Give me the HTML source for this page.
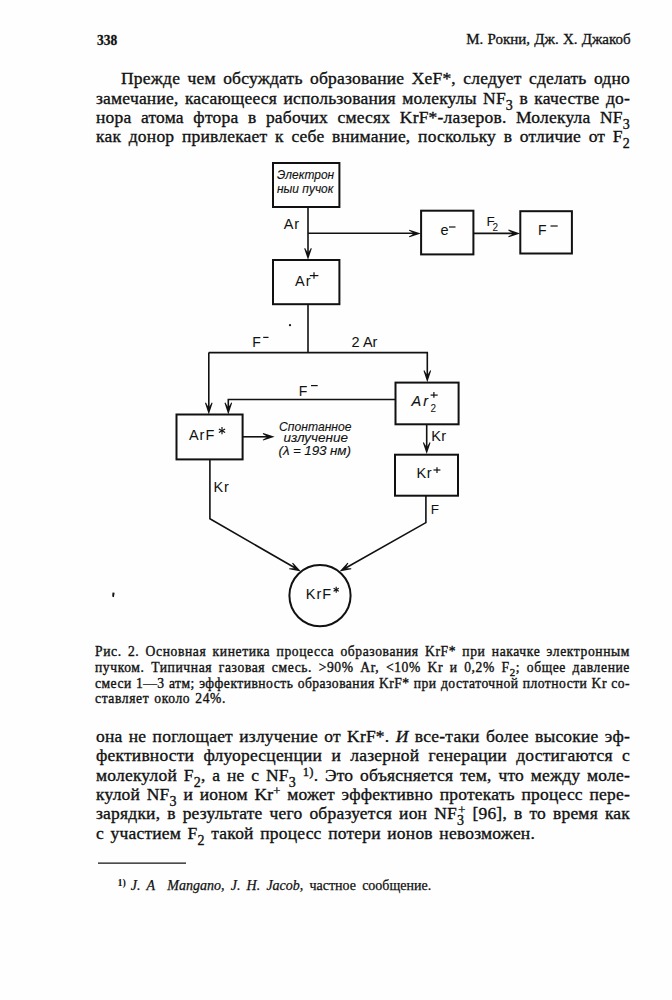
<!DOCTYPE html>
<html><head><meta charset="utf-8">
<style>
html,body{margin:0;padding:0;background:#fdfefd;}
body{width:672px;height:1000px;position:relative;overflow:hidden;color:#111;}
.t{position:absolute;white-space:nowrap;font-family:"Liberation Serif",serif;line-height:1;}
.j{text-align:justify;text-align-last:justify;}
.b{font-size:17.5px;letter-spacing:0.2px;-webkit-text-stroke:0.35px #111;}
.c{font-size:13.6px;letter-spacing:0.6px;-webkit-text-stroke:0.35px #111;}
.sb{position:relative;top:0.42em;font-size:0.8em;line-height:0;}
.sp{position:relative;top:-0.42em;font-size:0.72em;line-height:0;}
.d{position:absolute;white-space:nowrap;font-family:"Liberation Sans",sans-serif;line-height:1;-webkit-text-stroke:0;}
.it{font-style:italic;-webkit-text-stroke:0.12px #111;transform-origin:0 0;}
svg{position:absolute;left:0;top:0;}
</style></head>
<body>
<div class="t" style="left:96.6px;top:32.3px;font-size:15.5px;font-weight:bold;-webkit-text-stroke:0.3px #111;transform:scaleX(0.87);transform-origin:0 0;">338</div>
<div class="t j" style="left:466.20px;top:31.99px;width:164.50px;font-size:15px;-webkit-text-stroke:0.3px #111;">М. Рокни, Дж. Х. Джакоб</div>
<div class="t b j" style="left:121.00px;top:70.09px;width:509.00px;">Прежде чем обсуждать образование XeF*, следует сделать одно</div>
<div class="t b j" style="left:96.00px;top:89.69px;width:534.00px;">замечание, касающееся использования молекулы NF<span class="sb">3</span> в качестве до-</div>
<div class="t b j" style="left:96.00px;top:109.09px;width:534.00px;">нора атома фтора в рабочих смесях KrF*-лазеров. Молекула NF<span class="sb">3</span></div>
<div class="t b j" style="left:96.00px;top:128.39px;width:534.00px;">как донор привлекает к себе внимание, поскольку в отличие от F<span class="sb">2</span></div>
<svg width="672" height="1000" viewBox="0 0 672 1000" >
<defs><path id="ah" d="M0,0.6 L-3.8,-10.8 L-2.9,-11.3 Q-1,-7.4 0,-6.8 Q1,-7.4 2.9,-11.3 L3.8,-10.8 Z" fill="#111"/></defs>
<g fill="none" stroke="#111" stroke-width="2">
<rect x="273.00" y="163.00" width="66.40" height="44.00"/>
<rect x="273.00" y="260.00" width="66.40" height="44.20"/>
<rect x="421.10" y="210.70" width="52.30" height="43.70"/>
<rect x="520.30" y="211.20" width="51.60" height="42.30"/>
<rect x="176.50" y="414.50" width="66.10" height="44.90"/>
<rect x="395.50" y="382.60" width="63.10" height="41.70"/>
<rect x="395.00" y="454.70" width="63.00" height="41.00"/>
<circle cx="320" cy="595.6" r="30.6"/>
</g>
<g fill="none" stroke="#111" stroke-width="1.60" stroke-linejoin="miter">
<path d="M308,207 V255"/>
<path d="M308,233.3 H416"/>
<path d="M474,233.4 H515"/>
<path d="M308,305 V352.6"/>
<path d="M208.8,352.6 H427.3 V378"/>
<path d="M208.8,352.6 V410"/>
<path d="M395,399.5 H228.3 V410"/>
<path d="M243,436.8 H270"/>
<path d="M426.7,425 V450"/>
<path d="M209.9,460 V518.8 L297,569"/>
<path d="M425.9,496 V522.6 L343,569.5"/>
</g>
<g>
<use href="#ah" transform="translate(308,259.2)"/>
<use href="#ah" transform="translate(420.2,233.5) rotate(-90)"/>
<use href="#ah" transform="translate(519.5,233.4) rotate(-90)"/>
<use href="#ah" transform="translate(427.3,381.6)"/>
<use href="#ah" transform="translate(208.8,413.8)"/>
<use href="#ah" transform="translate(228.3,413.8)"/>
<use href="#ah" transform="translate(274,436.8) rotate(-90)"/>
<use href="#ah" transform="translate(426.7,453.5)"/>
<use href="#ah" transform="translate(300.5,571.3) rotate(-60.6)"/>
<use href="#ah" transform="translate(340,571.3) rotate(60.4)"/>
</g>
<line x1="309.80" y1="275.60" x2="318.40" y2="275.60" stroke="#111" stroke-width="1.20"/>
<line x1="314.00" y1="272.20" x2="314.00" y2="278.80" stroke="#111" stroke-width="1.20"/>
<line x1="449.00" y1="227.00" x2="455.50" y2="227.00" stroke="#111" stroke-width="1.20"/>
<line x1="550.50" y1="226.00" x2="557.70" y2="226.00" stroke="#111" stroke-width="1.20"/>
<line x1="263.20" y1="337.40" x2="268.50" y2="337.40" stroke="#111" stroke-width="1.20"/>
<line x1="311.00" y1="385.60" x2="317.70" y2="385.60" stroke="#111" stroke-width="1.20"/>
<line x1="430.60" y1="395.10" x2="437.70" y2="395.10" stroke="#111" stroke-width="1.20"/>
<line x1="433.90" y1="391.90" x2="433.90" y2="397.80" stroke="#111" stroke-width="1.20"/>
<line x1="433.50" y1="470.00" x2="440.40" y2="470.00" stroke="#111" stroke-width="1.20"/>
<line x1="437.00" y1="467.30" x2="437.00" y2="473.00" stroke="#111" stroke-width="1.20"/>
<line x1="222.00" y1="427.10" x2="222.00" y2="434.30" stroke="#111" stroke-width="1.15"/>
<line x1="218.88" y1="428.90" x2="225.12" y2="432.50" stroke="#111" stroke-width="1.15"/>
<line x1="225.12" y1="428.90" x2="218.88" y2="432.50" stroke="#111" stroke-width="1.15"/>
<line x1="336.20" y1="586.80" x2="336.20" y2="592.80" stroke="#111" stroke-width="1.15"/>
<line x1="333.60" y1="588.30" x2="338.80" y2="591.30" stroke="#111" stroke-width="1.15"/>
<line x1="338.80" y1="588.30" x2="333.60" y2="591.30" stroke="#111" stroke-width="1.15"/>
<circle cx="290" cy="325.2" r="1.1" fill="#111"/>
<path d="M112.5,592.5 L114.6,592.8 L113.9,597.2 L112.2,596.6 Z" fill="#111"/>
<line x1="98" y1="863.1" x2="186" y2="863.1" stroke="#111" stroke-width="1.2"/>
</svg>
<div class="d it" style="left:277.20px;top:167.77px;font-size:13.50px;transform:scaleX(0.885);-webkit-text-stroke:0.15px #111;">Электрон</div>
<div class="d it" style="left:276.70px;top:182.32px;font-size:13.50px;transform:scaleX(0.885);-webkit-text-stroke:0.15px #111;">ныи пучок</div>
<div class="d" style="left:283.70px;top:217.33px;font-size:14.50px;letter-spacing:1.00px;">Ar</div>
<div class="d" style="left:294.90px;top:274.03px;font-size:14.50px;letter-spacing:1.20px;">Ar</div>
<div class="d" style="left:440.50px;top:223.13px;font-size:14.50px;">e</div>
<div class="d" style="left:486.40px;top:214.82px;font-size:13.50px;">F</div>
<div class="d" style="left:492.50px;top:222.78px;font-size:10.00px;">2</div>
<div class="d" style="left:538.00px;top:223.35px;font-size:14.00px;">F</div>
<div class="d" style="left:252.30px;top:334.85px;font-size:14.00px;">F</div>
<div class="d" style="left:351.60px;top:335.23px;font-size:14.50px;">2 Ar</div>
<div class="d" style="left:298.80px;top:383.55px;font-size:14.00px;">F</div>
<div class="d" style="left:188.90px;top:428.23px;font-size:14.50px;letter-spacing:1.00px;">ArF</div>
<div class="d it" style="left:411.50px;top:393.63px;font-size:14.50px;letter-spacing:2.00px;">Ar</div>
<div class="d" style="left:430.60px;top:403.94px;font-size:10.00px;">2</div>
<div class="d" style="left:431.20px;top:428.53px;font-size:14.50px;letter-spacing:0.50px;">Kr</div>
<div class="d" style="left:416.60px;top:465.73px;font-size:14.50px;letter-spacing:0.60px;">Kr</div>
<div class="d" style="left:213.40px;top:479.63px;font-size:14.50px;letter-spacing:1.00px;">Kr</div>
<div class="d" style="left:430.80px;top:503.27px;font-size:13.50px;">F</div>
<div class="d it" style="left:278.60px;top:419.57px;font-size:13.50px;transform:scaleX(0.900);">Спонтанное</div>
<div class="d it" style="left:283.40px;top:430.87px;font-size:13.50px;">излучение</div>
<div class="d it" style="left:278.60px;top:443.57px;font-size:13.50px;letter-spacing:-0.15px;">(λ = 193 нм)</div>
<div class="d" style="left:305.80px;top:587.48px;font-size:14.50px;letter-spacing:1.00px;">KrF</div>
<div class="t c j" style="left:95.00px;top:644.96px;width:535.00px;">Рис. 2. Основная кинетика процесса образования KrF* при накачке электронным</div>
<div class="t c j" style="left:95.00px;top:660.61px;width:535.00px;">пучком. Типичная газовая смесь. &gt;90% Ar, &lt;10% Kr и 0,2% F<span class="sb">2</span>; общее давление</div>
<div class="t c j" style="left:95.00px;top:676.66px;width:535.00px;letter-spacing:0.48px;">смеси 1—3 атм; эффективность образования KrF* при достаточной плотности Kr со-</div>
<div class="t c j" style="left:95.00px;top:692.16px;width:131.00px;">ставляет около 24%.</div>
<div class="t b j" style="left:96.00px;top:727.69px;width:534.00px;">она не поглощает излучение от KrF*. <i>И</i> все-таки более высокие эф-</div>
<div class="t b j" style="left:96.00px;top:746.59px;width:534.00px;">фективности флуоресценции и лазерной генерации достигаются с</div>
<div class="t b j" style="left:96.00px;top:767.09px;width:534.00px;">молекулой F<span class="sb">2</span>, а не с NF<span class="sb">3</span> <span class="sp">1)</span>. Это объясняется тем, что между моле-</div>
<div class="t b j" style="left:96.00px;top:786.49px;width:534.00px;">кулой NF<span class="sb">3</span> и ионом Kr<span class="sp">+</span> может эффективно протекать процесс пере-</div>
<div class="t b j" style="left:96.00px;top:805.49px;width:534.00px;">зарядки, в результате чего образуется ион NF<span class="sb">3</span><span class="sp" style="margin-left:-6px">+</span> [96], в то время как</div>
<div class="t b j" style="left:96.00px;top:825.09px;width:439.00px;">с участием F<span class="sb">2</span> такой процесс потери ионов невозможен.</div>
<div class="t " style="left:117.40px;top:878.92px;font-size:14px;font-weight:bold;"><span class="sp">1)</span></div>
<div class="t j" style="left:130.80px;top:878.92px;width:300.40px;font-size:14px;-webkit-text-stroke:0.25px #111;"><i>J. A&nbsp; Mangano, J. H. Jacob,</i> частное сообщение.</div>
</body></html>
